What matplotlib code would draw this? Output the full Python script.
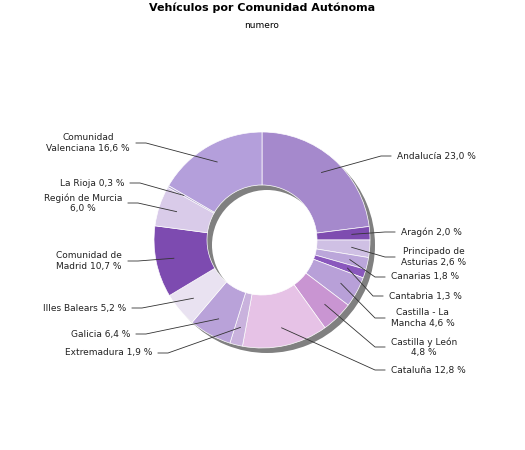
import matplotlib
matplotlib.use("Agg")
import matplotlib.pyplot as plt
import numpy as np

labels = ["Andalucía 23,0 %", "Aragón 2,0 %", "Principado de\nAsturias 2,6 %", "Canarias 1,8 %",
          "Cantabria 1,3 %", "Castilla - La\nMancha 4,6 %", "Castilla y León\n4,8 %", "Cataluña 12,8 %",
          "Extremadura 1,9 %", "Galicia 6,4 %", "Illes Balears 5,2 %", "Comunidad de\nMadrid 10,7 %",
          "Región de Murcia\n6,0 %", "La Rioja 0,3 %", "Comunidad\nValenciana 16,6 %"]
values = [23.0, 2.0, 2.6, 1.8, 1.3, 4.6, 4.8, 12.8, 1.9, 6.4, 5.2, 10.7, 6.0, 0.3, 16.6]
colors = ["#a589cc", "#7e4cb0", "#cfc0e4", "#bba6da", "#8a58bd", "#b8a0d8", "#c995d2", "#e6c2e6",
          "#c9b2dd", "#b9a2d9", "#e9e2f1", "#7d4bb0", "#d9cbe9", "#b2a2d2", "#b49fdb"]
# label anchor positions in pixels (layout)
pos = [(397,156,'left'), (401,232,'left'), (401,257,'left'), (391,277,'left'), (389,296,'left'),
       (391,318,'left'), (391,347,'left'), (391,370,'left'), (152,353,'right'), (130,334,'right'),
       (126,308,'right'), (122,261,'right'), (122,203,'right'), (124,183,'right'), (130,143,'right')]

fig = plt.figure(figsize=(5.25, 4.5), dpi=100)
ax = fig.add_axes([0, 0, 1, 1])
cx, cy, R, w = 262, -240, 108, 53
# shadow
ax.pie([1], radius=R, center=(cx+5, cy-5), colors=["#808080"], wedgeprops=dict(width=w))
wedges, _ = ax.pie(values, radius=R, center=(cx, cy), colors=colors, startangle=90,
                   counterclock=False, wedgeprops=dict(width=w, edgecolor='white', linewidth=0.5))
for wd, lab, (tx, ty, ha) in zip(wedges, labels, pos):
    a = np.deg2rad((wd.theta1 + wd.theta2) / 2)
    px, py = cx + 90*np.cos(a), cy + 90*np.sin(a)
    ex = tx - 6 if ha == 'left' else tx + 6
    ex2 = ex - 10 if ha == 'left' else ex + 10
    ax.plot([px, ex2, ex], [py, -ty, -ty], color='#333333', lw=0.6)
    ax.text(tx, -ty, lab, ha=ha, va='center', fontsize=6.5, multialignment='center', color='#222222')
ax.text(262, -8, "Vehículos por Comunidad Autónoma", ha='center', va='center', fontsize=8, fontweight='bold')
ax.text(262, -25, "numero", ha='center', va='center', fontsize=6.5)
ax.set_xlim(0, 525); ax.set_ylim(-450, 0); ax.set_aspect('auto'); ax.axis('off')
fig.savefig("out.png", dpi=100)
